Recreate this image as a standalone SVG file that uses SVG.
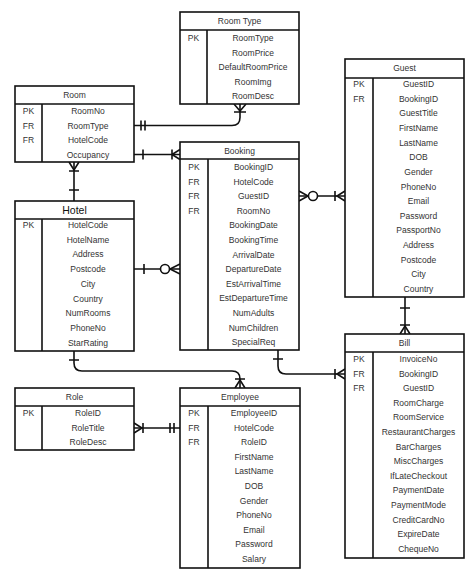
<svg xmlns="http://www.w3.org/2000/svg" width="474" height="576" viewBox="0 0 474 576">
<style>
.box{fill:#fff;stroke:#111;stroke-width:1.6}
.ln{fill:none;stroke:#111;stroke-width:1.6}
text{font-family:"Liberation Sans",Arial,sans-serif;font-size:8.5px;fill:#333;text-anchor:middle;dominant-baseline:central}
.hb{font-size:10.5px;fill:#111}
</style>
<rect width="474" height="576" fill="#fff"/>
<g id="connectors">
<!-- RoomType - Room -->
<path class="ln" d="M134,125.5 H232 Q240,125.5 240,117.5 V104"/>
<path class="ln" d="M141,120.5 V130.5 M145,120.5 V130.5 M234,104 L240,111 L246,104 M234,112 H246"/>
<!-- Room - Booking -->
<path class="ln" d="M134,154.5 H180"/>
<path class="ln" d="M143,149.5 V159.5 M172,149.5 V159.5 M180,149.5 L172,154.5 L180,159.5"/>
<!-- Room - Hotel -->
<path class="ln" d="M74,162 V201"/>
<path class="ln" d="M69,162 L74,170 L79,162 M69,171 H79 M69,190 H79"/>
<!-- Hotel - Booking -->
<path class="ln" d="M134,269 H180"/>
<path class="ln" d="M144,264 V274 M180,264 L170,269 L180,274"/>
<circle class="ln" cx="165" cy="269" r="4.5" style="fill:#fff"/>
<!-- Booking - Guest -->
<path class="ln" d="M299,196 H345"/>
<path class="ln" d="M299,191 L308,196 L299,201 M335,191 V201 M345,191 L337,196 L345,201"/>
<circle class="ln" cx="313" cy="196" r="4.5" style="fill:#fff"/>
<!-- Guest - Bill -->
<path class="ln" d="M405,297 V334"/>
<path class="ln" d="M400,308 H410 M400,325 H410 M400,334 L405,326 L410,334"/>
<!-- Booking - Bill -->
<path class="ln" d="M278,350 V366 Q278,374 286,374 H345"/>
<path class="ln" d="M273,359 H283 M335,369 V379 M345,369 L337,374 L345,379"/>
<!-- Hotel - Employee -->
<path class="ln" d="M74,351 V363 Q74,371 82,371 H232 Q240,371 240,379 V388"/>
<path class="ln" d="M69,360 H79 M235,379 H245 M235,388 L240,380 L245,388"/>
<!-- Role - Employee -->
<path class="ln" d="M134,428 H180"/>
<path class="ln" d="M134,423 L142,428 L134,433 M143,423 V433 M170,423 V433 M174,423 V433"/>
</g>
<g id="roomtype">
<rect class="box" x="180" y="12" width="119" height="92"/>
<path class="ln" d="M180,30 H299 M207,30 V104"/>
<text x="239.5" y="21">Room Type</text>
<text x="193.5" y="38">PK</text>
<text x="253" y="38">RoomType</text>
<text x="253" y="52.5">RoomPrice</text>
<text x="253" y="67">DefaultRoomPrice</text>
<text x="253" y="81.5">RoomImg</text>
<text x="253" y="96">RoomDesc</text>
</g>
<g id="room">
<rect class="box" x="15" y="86" width="119" height="76"/>
<path class="ln" d="M15,104 H134 M42,104 V162"/>
<text x="74.5" y="95">Room</text>
<text x="28.5" y="111">PK</text>
<text x="28.5" y="125.5">FR</text>
<text x="28.5" y="140">FR</text>
<text x="88" y="111">RoomNo</text>
<text x="88" y="125.5">RoomType</text>
<text x="88" y="140">HotelCode</text>
<text x="88" y="154.5">Occupancy</text>
</g>
<g id="hotel">
<rect class="box" x="15" y="201" width="119" height="150"/>
<path class="ln" d="M15,219 H134 M42,219 V351"/>
<text class="hb" x="74.5" y="210">Hotel</text>
<text x="28.5" y="225">PK</text>
<text x="88" y="225">HotelCode</text>
<text x="88" y="239.7">HotelName</text>
<text x="88" y="254.4">Address</text>
<text x="88" y="269">Postcode</text>
<text x="88" y="283.8">City</text>
<text x="88" y="298.5">Country</text>
<text x="88" y="313.2">NumRooms</text>
<text x="88" y="327.9">PhoneNo</text>
<text x="88" y="342.6">StarRating</text>
</g>
<g id="booking">
<rect class="box" x="180" y="142" width="119" height="208"/>
<path class="ln" d="M180,159 H299 M208,159 V350"/>
<text x="239.5" y="150.5">Booking</text>
<text x="194" y="167">PK</text>
<text x="194" y="181.6">FR</text>
<text x="194" y="196.2">FR</text>
<text x="194" y="210.8">FR</text>
<text x="253.5" y="167">BookingID</text>
<text x="253.5" y="181.6">HotelCode</text>
<text x="253.5" y="196.2">GuestID</text>
<text x="253.5" y="210.8">RoomNo</text>
<text x="253.5" y="225.4">BookingDate</text>
<text x="253.5" y="240">BookingTime</text>
<text x="253.5" y="254.6">ArrivalDate</text>
<text x="253.5" y="269.2">DepartureDate</text>
<text x="253.5" y="283.8">EstArrivalTime</text>
<text x="253.5" y="298.4">EstDepartureTime</text>
<text x="253.5" y="313">NumAdults</text>
<text x="253.5" y="327.6">NumChildren</text>
<text x="253.5" y="342.2">SpecialReq</text>
</g>
<g id="guest">
<rect class="box" x="345" y="59" width="119" height="238"/>
<path class="ln" d="M345,78 H464 M373,78 V297"/>
<text x="404.5" y="68">Guest</text>
<text x="359" y="84">PK</text>
<text x="359" y="98.6">FR</text>
<text x="418.5" y="84">GuestID</text>
<text x="418.5" y="98.6">BookingID</text>
<text x="418.5" y="113.3">GuestTitle</text>
<text x="418.5" y="127.9">FirstName</text>
<text x="418.5" y="142.6">LastName</text>
<text x="418.5" y="157.2">DOB</text>
<text x="418.5" y="171.8">Gender</text>
<text x="418.5" y="186.5">PhoneNo</text>
<text x="418.5" y="201.1">Email</text>
<text x="418.5" y="215.8">Password</text>
<text x="418.5" y="230.4">PassportNo</text>
<text x="418.5" y="245">Address</text>
<text x="418.5" y="259.7">Postcode</text>
<text x="418.5" y="274.3">City</text>
<text x="418.5" y="289">Country</text>
</g>
<g id="bill">
<rect class="box" x="345" y="334" width="119" height="224"/>
<path class="ln" d="M345,352 H464 M373,352 V558"/>
<text x="404.5" y="343">Bill</text>
<text x="359" y="359">PK</text>
<text x="359" y="373.6">FR</text>
<text x="359" y="388.2">FR</text>
<text x="418.5" y="359">InvoiceNo</text>
<text x="418.5" y="373.6">BookingID</text>
<text x="418.5" y="388.2">GuestID</text>
<text x="418.5" y="402.8">RoomCharge</text>
<text x="418.5" y="417.4">RoomService</text>
<text x="418.5" y="432">RestaurantCharges</text>
<text x="418.5" y="446.6">BarCharges</text>
<text x="418.5" y="461.2">MiscCharges</text>
<text x="418.5" y="475.8">IfLateCheckout</text>
<text x="418.5" y="490.4">PaymentDate</text>
<text x="418.5" y="505">PaymentMode</text>
<text x="418.5" y="519.6">CreditCardNo</text>
<text x="418.5" y="534.2">ExpireDate</text>
<text x="418.5" y="548.8">ChequeNo</text>
</g>
<g id="role">
<rect class="box" x="15" y="388" width="119" height="62"/>
<path class="ln" d="M15,406 H134 M42,406 V450"/>
<text x="74.5" y="397">Role</text>
<text x="28.5" y="413">PK</text>
<text x="88" y="413">RoleID</text>
<text x="88" y="427.6">RoleTitle</text>
<text x="88" y="442.2">RoleDesc</text>
</g>
<g id="employee">
<rect class="box" x="180" y="388" width="120" height="180"/>
<path class="ln" d="M180,406 H300 M208,406 V568"/>
<text x="240" y="397">Employee</text>
<text x="194" y="413">PK</text>
<text x="194" y="427.6">FR</text>
<text x="194" y="442.2">FR</text>
<text x="254" y="413">EmployeeID</text>
<text x="254" y="427.6">HotelCode</text>
<text x="254" y="442.2">RoleID</text>
<text x="254" y="456.8">FirstName</text>
<text x="254" y="471.4">LastName</text>
<text x="254" y="486">DOB</text>
<text x="254" y="500.6">Gender</text>
<text x="254" y="515.2">PhoneNo</text>
<text x="254" y="529.8">Email</text>
<text x="254" y="544.4">Password</text>
<text x="254" y="559">Salary</text>
</g>
</svg>
